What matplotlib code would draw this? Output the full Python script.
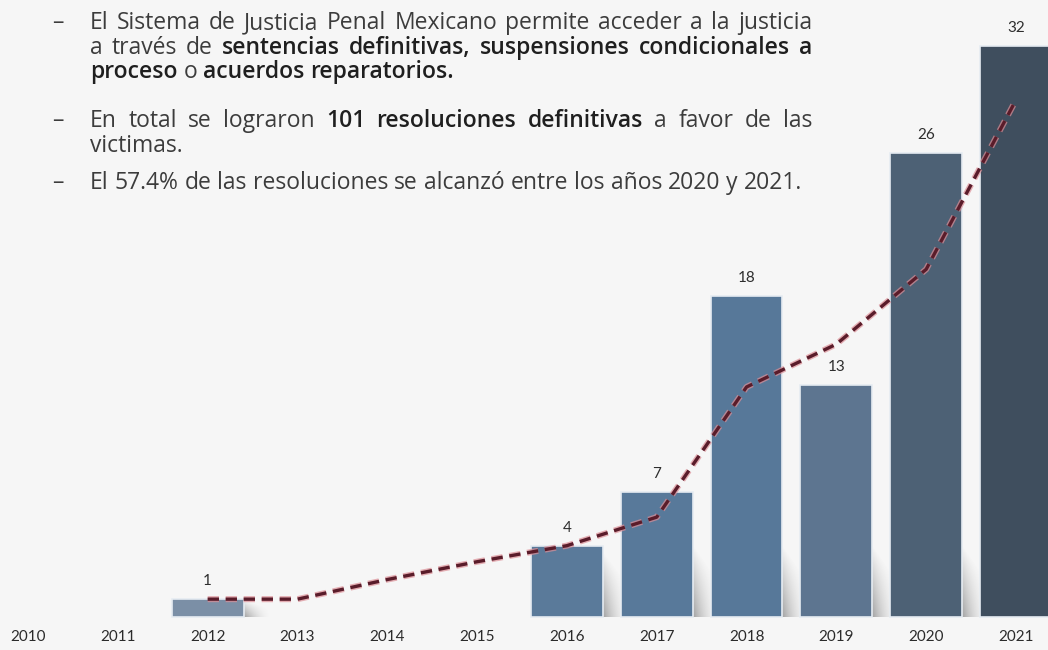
import numpy as np
import matplotlib
matplotlib.use("Agg")
import matplotlib.pyplot as plt
from matplotlib import patheffects as pe

# ---- data ----
years = [2010, 2011, 2012, 2013, 2014, 2015, 2016, 2017, 2018, 2019, 2020, 2021]
resoluciones = [0, 0, 1, 0, 0, 0, 4, 7, 18, 13, 26, 32]
tendencia_years = [2012, 2013, 2014, 2015, 2016, 2017, 2018, 2019, 2020, 2021]
tendencia = [1.0, 1.0, 2.1, 3.1, 4.0, 5.6, 12.9, 15.3, 19.5, 29.0]

# ---- style ----
BG = "#f6f6f6"
FONT = ["Open Sans", "DejaVu Sans"]
LBL_FONT = ["Lato", "DejaVu Sans"]
bar_colors = ["#7d90a6", "#7d90a6", "#7b8fa6", "#6b84a0", "#6382a0", "#5e7e9e",
              "#5a7a9a", "#58799a", "#577899", "#5d7590", "#4d6175", "#3f4e5e"]
TXT = "#3c3c3c"
TXT_B = "#1f1f1f"
BOLD = "semibold"

W, H = 1048, 650
fig = plt.figure(figsize=(W / 100, H / 100), dpi=100)
fig.patch.set_facecolor(BG)
ax = fig.add_axes([0, 0, 1, 1])
ax.set_facecolor(BG)
ax.axis("off")

XLIM = (2009.688, 2021.356)
YLIM = (-1.851, 34.60)
BAR_W = 0.8

# soft drop shadows to the lower right of each bar
for yr, v in zip(years, resoluciones):
    if v <= 0:
        continue
    sh = min(v * 0.9, 4.0)
    nx, ny = 40, 60
    u = np.linspace(0, 1, nx)[None, :]
    t = np.linspace(0, 1, ny)[:, None]          # 0 at top, 1 at bottom
    alpha = 0.6 * (1 - u) ** 1.3 * np.clip(t - 0.5 * u, 0, 1) ** 0.9
    img = np.zeros((ny, nx, 4))
    img[..., :3] = 0.42
    img[..., 3] = alpha
    ax.imshow(img, extent=[yr + BAR_W / 2, yr + BAR_W / 2 + 0.28, 0, sh],
              aspect="auto", zorder=2, interpolation="bilinear")

edge_cols = ["#e6ecf2" if v > 0 else "none" for v in resoluciones]
ax.bar(years, resoluciones, width=BAR_W, color=bar_colors,
       edgecolor=edge_cols, linewidth=1.2, zorder=3)

ax.plot(tendencia_years, tendencia, color="#5a1c2a", lw=2.4,
        dashes=(3.4, 2.0), zorder=5, solid_capstyle="butt",
        path_effects=[pe.Stroke(linewidth=4.4, foreground="#dc8e96", alpha=0.7),
                      pe.Normal()])

for yr, v in zip(years, resoluciones):
    if v > 0:
        ax.annotate(str(v), (yr, v), xytext=(0, 8), textcoords="offset points",
                    ha="center", va="bottom", fontsize=11, color="#2e2e2e",
                    family=LBL_FONT, zorder=6)

for yr in years:
    ax.text(yr, -1.12, str(yr), ha="center", va="center", fontsize=11,
            color="#2b2b2b", family=LBL_FONT)

ax.set_xlim(*XLIM)
ax.set_ylim(*YLIM)

# ---- bullet text with justified lines ----
renderer = fig.canvas.get_renderer()
FS = 15


def seg_width(text, bold, size=None):
    tx = fig.text(0, 0, text, fontsize=size or FS,
                  fontweight=BOLD if bold else "normal", family=FONT)
    w = tx.get_window_extent(renderer).width
    tx.remove()
    return w


def words(spec):
    out = []
    for text, bold in spec:
        for w in text.split(" "):
            out.append((w, bold))
    return out


last_line = "El 57.4% de las resoluciones se alcanzó entre los años 2020 y 2021."
# size the body text so the longest unjustified line spans the text column
FS = float(np.clip(15 * 712 / seg_width(last_line, False, 15), 13.5, 16.5))
SPACE = seg_width("x x", False) - seg_width("xx", False)

lines = [
    # (words, baseline_px, justify)
    (words([("El Sistema de Justicia Penal Mexicano permite acceder a la justicia", False)]), 29, True),
    (words([("a través de", False),
            ("sentencias definitivas, suspensiones condicionales a", True)]), 54, True),
    (words([("proceso", True), ("o", False), ("acuerdos reparatorios.", True)]), 78, False),
    (words([("En total se lograron", False), ("101 resoluciones definitivas", True),
            ("a favor de las", False)]), 127, True),
    (words([("victimas.", False)]), 152, False),
    (words([(last_line, False)]), 189, False),
]

X0, X1 = 90, 812
for wlist, base, justify in lines:
    widths = [seg_width(t, b) for t, b in wlist]
    if justify and len(wlist) > 1:
        gap = max((X1 - X0 - sum(widths)) / (len(wlist) - 1), SPACE * 0.6)
    else:
        gap = SPACE
    x = X0
    for (t, b), ww in zip(wlist, widths):
        fig.text(x / W, 1 - base / H, t, fontsize=FS,
                 fontweight=BOLD if b else "normal",
                 color=TXT_B if b else TXT, family=FONT,
                 ha="left", va="baseline")
        x += ww + gap

for base in (29, 127, 189):
    fig.text(52 / W, 1 - base / H, "–", fontsize=FS, color=TXT, family=FONT,
             ha="left", va="baseline")

fig.savefig("out.png", dpi=100, facecolor=BG)
